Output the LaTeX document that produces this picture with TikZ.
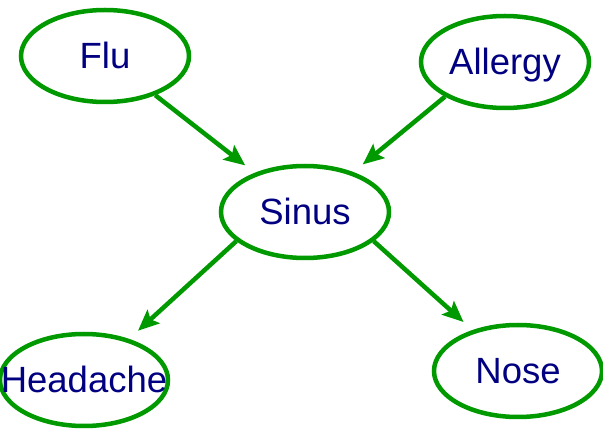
\documentclass[tikz,border=0pt]{standalone}
\usepackage{fontspec}
\setmainfont{Liberation Sans}
\usetikzlibrary{shapes.geometric,arrows.meta,positioning}
\definecolor{netgreen}{RGB}{0,153,0}
\definecolor{netnavy}{RGB}{0,0,128}
\tikzset{netpicture/.style={x=1pt,y=-1pt},
     var/.style={
       ellipse,
       draw=netgreen,
       line width=4.5pt,
       minimum width=168pt,
       minimum height=92pt,
       inner sep=0pt,
       text height=26pt,
       text depth=0pt,
       text=netnavy,
       font=\fontsize{36.5pt}{40pt}\selectfont
     },
     link/.style={
       draw=netgreen,
       line width=4.5pt,
       -{Stealth[length=21pt,width=18pt,inset=4pt]},
       shorten >=12pt
     }
}
\begin{document}
\begin{tikzpicture}[netpicture]
    \useasboundingbox (0,0) rectangle (603,430);
    \node[var] (flu) at (105,56) {\makebox[0pt]{Flu}};
    \node[var] (allergy) at (505,62) {\makebox[0pt]{Allergy}};
    \node[var] (sinus) at (305,212) {\makebox[0pt]{Sinus}};
    \node[var] (headache) at (84,380) {\makebox[0pt]{Headache}};
    \node[var] (nose) at (518,371) {\makebox[0pt]{Nose}};

    \draw[link] (flu) -- (sinus);
    \draw[link] (allergy.210) -- (sinus);
    \draw[link] (sinus.203) -- (headache);
    \draw[link] (sinus.337) -- (nose);
\end{tikzpicture}
\end{document}
